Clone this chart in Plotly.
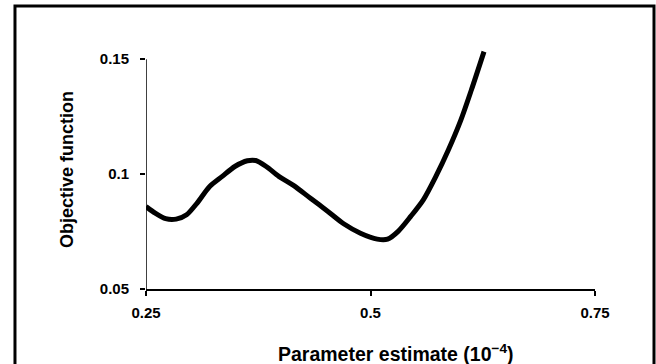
import plotly.graph_objects as go

# Data (parameter estimate in units of 1e-4)
param_estimate = [0.25, 0.2603, 0.2719, 0.2836, 0.2952, 0.3069, 0.3209, 0.3349, 0.3489,
                  0.3629, 0.3722, 0.3839, 0.3979, 0.4142, 0.4328, 0.4515, 0.4701, 0.4888,
                  0.5075, 0.5191, 0.5308, 0.5448, 0.5588, 0.5728, 0.5868, 0.6007, 0.6124, 0.6264]
objective = [0.0859, 0.0830, 0.0806, 0.0804, 0.0823, 0.0874, 0.0946, 0.0990, 0.1033,
             0.1058, 0.1059, 0.1033, 0.0990, 0.0951, 0.0896, 0.0841, 0.0784, 0.0743,
             0.0717, 0.0717, 0.0751, 0.0816, 0.0888, 0.0990, 0.1106, 0.1236, 0.1367, 0.1533]

x_ticks = [0.25, 0.5, 0.75]
x_tick_labels = ["0.25", "0.5", "0.75"]
y_ticks = [0.05, 0.1, 0.15]
y_tick_labels = ["0.05", "0.1", "0.15"]
x_title = "Parameter estimate (10<sup>−4</sup>)"
y_title = "Objective function"

FONT = "Liberation Sans, Arial, sans-serif"

fig = go.Figure()
fig.add_trace(go.Scatter(
    x=param_estimate, y=objective, mode="lines",
    line=dict(color="black", width=5, shape="spline", smoothing=0.8),
    showlegend=False, hoverinfo="skip",
))

fig.update_layout(
    width=656, height=364,
    margin=dict(l=146, r=61, t=50, b=75),
    paper_bgcolor="white", plot_bgcolor="white",
    font=dict(family=FONT, color="black"),
    xaxis=dict(
        range=[0.25, 0.75], tickvals=x_ticks, ticktext=x_tick_labels,
        automargin=False,
        showgrid=False, zeroline=False, showline=True, linecolor="black", linewidth=1.5,
        ticks="outside", ticklen=5, tickwidth=1.5, tickcolor="black",
        ticklabelstandoff=4,
        tickfont=dict(size=15, family=FONT, weight="bold"),
    ),
    yaxis=dict(
        range=[0.05, 0.154], tickvals=y_ticks, ticktext=y_tick_labels,
        automargin=False,
        showgrid=False, zeroline=False, showline=False,
        ticks="outside", ticklen=5, tickwidth=1.5, tickcolor="black",
        ticklabelstandoff=8,
        tickfont=dict(size=15, family=FONT, weight="bold"),
        title=dict(text=y_title, standoff=21,
                   font=dict(size=18, family=FONT, weight="bold")),
    ),
)

# x axis title, offset to the right as in the reference
fig.add_annotation(text=x_title, xref="paper", yref="paper", x=0.557, y=-0.268,
                   xanchor="center", yanchor="middle", showarrow=False,
                   font=dict(size=19.5, family=FONT, weight="bold", color="black"))

# y axis line from 0.05 to 0.15 only
fig.add_shape(type="line", xref="x", yref="y", x0=x_ticks[0], x1=x_ticks[0],
              y0=y_ticks[0], y1=y_ticks[-1], line=dict(color="black", width=1.5))

# outer frame (left, top, right borders)
fig.add_shape(type="path", xref="paper", yref="paper",
              path="M -0.2918 -0.33 L -0.2918 1.184 L 1.1314 1.184 L 1.1314 -0.33",
              line=dict(color="black", width=3))

fig.write_html("out.html")
